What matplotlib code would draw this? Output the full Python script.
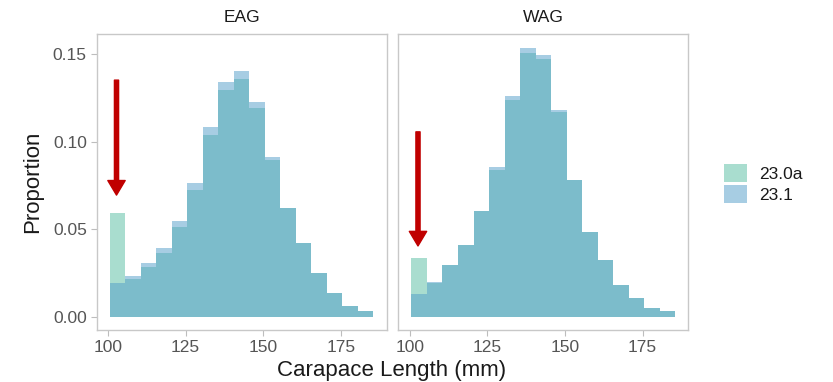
import matplotlib
matplotlib.use("Agg")
import matplotlib.pyplot as plt
from matplotlib.patches import Patch

plt.rcParams['font.family'] = ['Liberation Sans', 'DejaVu Sans']

# histogram bins (5 mm wide), centres
bin_centers = [103, 108, 113, 118, 123, 128, 133, 138, 143, 148, 153, 158, 163, 168, 173, 178, 183]

# proportions
eag_230a = [0.0594, 0.0215, 0.0282, 0.0362, 0.0511, 0.0724, 0.1038, 0.1295, 0.1358,
            0.1194, 0.0895, 0.0620, 0.0419, 0.0248, 0.0133, 0.0063, 0.0034]
eag_231 = [0.0191, 0.0234, 0.0305, 0.0390, 0.0547, 0.0766, 0.1086, 0.1343, 0.1404,
           0.1229, 0.0914, 0.0623, 0.0419, 0.0248, 0.0133, 0.0063, 0.0034]
wag_230a = [0.0333, 0.0192, 0.0295, 0.0410, 0.0604, 0.0838, 0.1238, 0.1511, 0.1476,
            0.1172, 0.0781, 0.0486, 0.0324, 0.0181, 0.0105, 0.0048, 0.0029]
wag_231 = [0.0130, 0.0196, 0.0295, 0.0410, 0.0604, 0.0857, 0.1263, 0.1539, 0.1499,
           0.1181, 0.0781, 0.0486, 0.0324, 0.0181, 0.0105, 0.0048, 0.0029]

panels = ["EAG", "WAG"]
series_names = ["23.0a", "23.1"]
x_ticks = [100, 125, 150, 175]
y_ticks = [0.00, 0.05, 0.10, 0.15]

# arrows (x, y start, y end) pointing at the first bin
arrows = [(102.7, 0.1353, 0.0695), (102.6, 0.1057, 0.0404)]

green = "#55BDA1"
blue = "#519DC9"
W, H = 833, 382

fig = plt.figure(figsize=(W / 100, H / 100), dpi=100)

ax_left = fig.add_axes([96.5 / W, 1 - 330 / H, 290 / W, 296 / H])
ax_right = fig.add_axes([398.3 / W, 1 - 330 / H, 290 / W, 296 / H])

data = [(eag_230a, eag_231), (wag_230a, wag_231)]

for i, ax in enumerate([ax_left, ax_right]):
    a, b = data[i]
    ax.bar(bin_centers, a, width=5, color=green, alpha=0.5, linewidth=0)
    ax.bar(bin_centers, b, width=5, color=blue, alpha=0.5, linewidth=0)
    ax.set_xlim(96.25, 189.75)
    ax.set_ylim(-0.0077, 0.1617)
    ax.set_xticks(x_ticks)
    ax.set_yticks(y_ticks)
    ax.set_yticklabels(["%.2f" % v for v in y_ticks])
    ax.tick_params(length=4, width=0.8, color="#bdbdbd", labelcolor="#555555",
                   labelsize=12.5, pad=3)
    for s in ax.spines.values():
        s.set_color("#c8c8c8")
        s.set_linewidth(1.0)
    ax.set_title(panels[i], fontsize=12.5, color="#1a1a1a", pad=9)
    x0, y0, y1 = arrows[i]
    ax.annotate("", xy=(x0, y1), xytext=(x0, y0),
                arrowprops=dict(arrowstyle="simple,head_length=10.5,head_width=12.5,tail_width=3",
                                mutation_scale=1, color="#c00000", shrinkA=0, shrinkB=0))

ax_right.tick_params(axis="y", left=False, labelleft=False)

fig.text(33 / W, 1 - 182 / H, "Proportion", rotation=90, ha="center", va="center",
         fontsize=16, color="#1a1a1a")
fig.text(392 / W, 1 - 376 / H, "Carapace Length (mm)", ha="center", va="baseline",
         fontsize=16, color="#1a1a1a")

handles = [Patch(facecolor=green, alpha=0.5, linewidth=0),
           Patch(facecolor=blue, alpha=0.5, linewidth=0)]
fig.legend(handles, series_names, loc="upper left", bbox_to_anchor=(724 / W, 1 - 164 / H),
           frameon=False, fontsize=12.5, handlelength=1.3, handleheight=1.25,
           labelspacing=0.15, handletextpad=0.7, borderpad=0, borderaxespad=0,
           labelcolor="#1a1a1a")

fig.savefig("out.png", dpi=100)
